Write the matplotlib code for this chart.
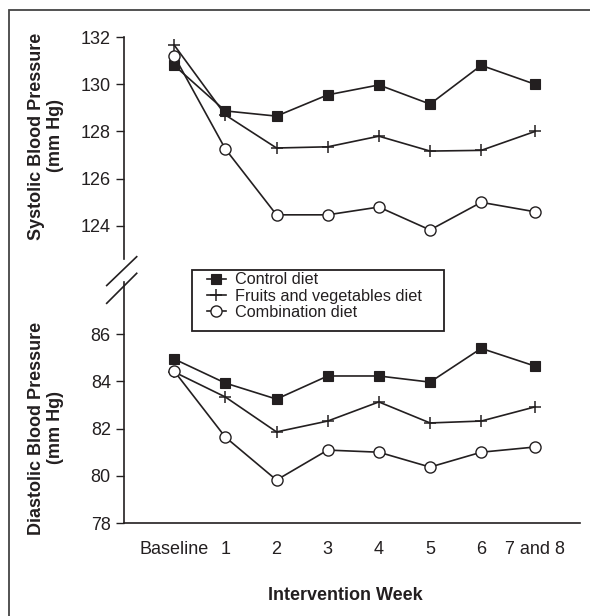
import matplotlib
matplotlib.use('Agg')
import matplotlib.pyplot as plt
from matplotlib.lines import Line2D
from matplotlib.patches import Rectangle

plt.rcParams['font.family'] = ['Liberation Sans', 'DejaVu Sans']

# Data
weeks = ['Baseline', '1', '2', '3', '4', '5', '6', '7 and 8']
week_pos = [0, 1, 2, 3, 4, 5, 6, 7.05]

sys_control = [130.8, 128.87, 128.65, 129.55, 129.97, 129.16, 130.8, 130.0]
sys_fruits = [131.66, 128.7, 127.3, 127.35, 127.8, 127.17, 127.2, 128.0]
sys_combo = [131.2, 127.26, 124.47, 124.47, 124.8, 123.83, 125.0, 124.6]

dia_control = [84.95, 83.93, 83.25, 84.23, 84.23, 83.97, 85.4, 84.65]
dia_fruits = [84.4, 83.34, 81.86, 82.32, 83.13, 82.24, 82.32, 82.92]
dia_combo = [84.44, 81.64, 79.82, 81.09, 81.0, 80.37, 81.0, 81.22]

labels = ['Control diet', 'Fruits and vegetables diet', 'Combination diet']

ink = '#231f20'
W, H = 590, 616
fig = plt.figure(figsize=(W / 100, H / 100), dpi=100)


def fx(px):
    return px / W


def fy(py):
    return 1 - py / H


ax_left, ax_right = 124, 580
ax_top = fig.add_axes([fx(ax_left), fy(259), fx(ax_right - ax_left), (259 - 37) / H])
ax_bot = fig.add_axes([fx(ax_left), fy(523), fx(ax_right - ax_left), (523 - 282.3) / H])

styles = [
    dict(marker='s', ms=7.3, mfc=ink, mec=ink, mew=0.8),
    dict(marker='+', ms=9, mfc=ink, mec=ink, mew=1.1),
    dict(marker='o', ms=8, mfc='white', mec=ink, mew=1.0),
]

for ax, series in [(ax_top, [sys_control, sys_fruits, sys_combo]),
                   (ax_bot, [dia_control, dia_fruits, dia_combo])]:
    for vals, st in zip(series, styles):
        ax.plot(week_pos, vals, color=ink, lw=1.2, **st)
    ax.set_xlim(-0.98, 7.93)
    ax.spines['top'].set_visible(False)
    ax.spines['right'].set_visible(False)
    ax.spines['left'].set_linewidth(1.2)
    ax.spines['left'].set_color(ink)
    ax.spines['bottom'].set_linewidth(1.2)
    ax.spines['bottom'].set_color(ink)
    ax.tick_params(axis='y', direction='out', length=6, width=1.0, color=ink,
                   labelsize=13, labelcolor=ink, pad=3.5)
    ax.patch.set_visible(False)

ax_top.set_ylim(122.6, 132)
ax_top.set_yticks([124, 126, 128, 130, 132])
ax_top.spines['bottom'].set_visible(False)
ax_top.set_xticks([])

ax_bot.set_ylim(78, 88.2)
ax_bot.set_yticks([78, 80, 82, 84, 86])
ax_bot.set_xticks(week_pos)
ax_bot.set_xticklabels(weeks)
ax_bot.tick_params(axis='x', length=0, labelsize=13, labelcolor=ink, pad=13)

# axis break marks
for y0, y1 in [(285.5, 256.7), (303.3, 273.3)]:
    fig.add_artist(Line2D([fx(106.7), fx(136.7)], [fy(y0), fy(y1)], color=ink, lw=1.2))

# axis labels
fig.text(fx(46), fy(136), 'Systolic Blood Pressure\n(mm Hg)', rotation=90, ha='center',
         va='center', fontsize=13, fontweight='bold', color=ink, linespacing=1.15)
fig.text(fx(46), fy(428), 'Diastolic Blood Pressure\n(mm Hg)', rotation=90, ha='center',
         va='center', fontsize=13, fontweight='bold', color=ink, linespacing=1.15)
fig.text(fx(345), fy(595), 'Intervention Week', ha='center', va='center', fontsize=13,
         fontweight='bold', color=ink)

# legend
fig.add_artist(Rectangle((fx(192), fy(331)), fx(444 - 192), (331 - 270) / H,
                         transform=fig.transFigure, fill=False, ec=ink, lw=1.3))
handles = [Line2D([], [], color=ink, lw=1.2, **st) for st in styles]
fig.legend(handles, labels, loc='center left', bbox_to_anchor=(fx(207), fy(296)),
           frameon=False, fontsize=11.7, handlelength=1.15, handletextpad=0.55,
           labelspacing=0.08, borderpad=0, borderaxespad=0, labelcolor=ink)

# outer border (cropped at right and bottom)
fig.add_artist(Rectangle((fx(8.5), fy(630)), fx(620), (630 - 10) / H,
                         transform=fig.transFigure, fill=False, ec='#444444', lw=1.3))

fig.savefig('out.png', dpi=100)
